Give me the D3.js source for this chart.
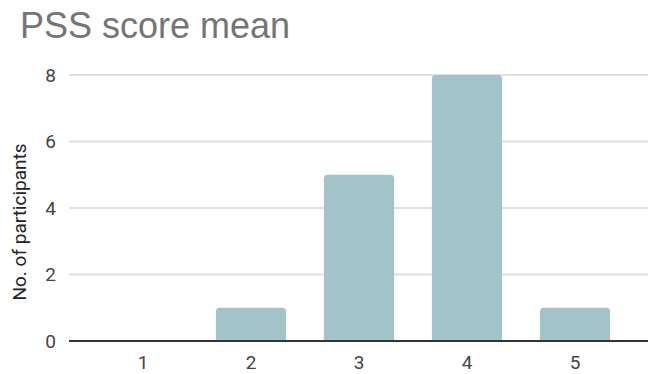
<!DOCTYPE html>
<html>
<head>
<meta charset="utf-8">
<script src="https://cdn.jsdelivr.net/npm/d3@7"></script>
<style>
  html, body { margin: 0; padding: 0; background: #fff; }
  svg { display: block; }
</style>
</head>
<body>
<svg id="chart" width="651" height="374"></svg>
<script>
const categories = ["1", "2", "3", "4", "5"];
const values = [0, 1, 5, 8, 1];
const yTicks = [0, 2, 4, 6, 8];
const titleText = "PSS score mean";
const yLabel = "No. of participants";

const svg = d3.select("#chart");
const W = 651, H = 374;
svg.append("rect").attr("width", W).attr("height", H).attr("fill", "#fff");

const gridX0 = 69, gridX1 = 648;
const x = d3.scaleBand().domain(categories).range([89, 629]).paddingInner(0.35).paddingOuter(0.175);
const y = d3.scaleLinear().domain([0, 8]).range([341, 75]);

// gridlines
svg.append("g").selectAll("line").data(yTicks.filter(d => d !== 0)).join("line")
  .attr("x1", gridX0).attr("x2", gridX1)
  .attr("y1", d => y(d)).attr("y2", d => y(d))
  .attr("stroke", "#e0e0e0").attr("stroke-width", 2);

// bars with rounded top corners
const r = 4;
svg.append("g").selectAll("path").data(categories.map((c, i) => ({c, v: values[i]})).filter(d => d.v > 0)).join("path")
  .attr("d", d => {
    const x0 = x(d.c), x1 = x0 + x.bandwidth(), y0 = y(0), y1 = y(d.v);
    return `M${x0},${y0} L${x0},${y1 + r} Q${x0},${y1} ${x0 + r},${y1} L${x1 - r},${y1} Q${x1},${y1} ${x1},${y1 + r} L${x1},${y0} Z`;
  })
  .attr("fill", "#a2c4c9");

// baseline
svg.append("line").attr("x1", gridX0).attr("x2", gridX1)
  .attr("y1", y(0)).attr("y2", y(0)).attr("stroke", "#333").attr("stroke-width", 2);

// y tick labels
const yAxis = d3.axisLeft(y).tickValues(yTicks).tickSize(0).tickPadding(0).tickFormat(d3.format("d"));
const gy = svg.append("g").attr("transform", "translate(56,0)").call(yAxis);
gy.select(".domain").remove();
gy.selectAll("text").attr("fill", "#444").style("font-family", "Roboto, 'Liberation Sans', sans-serif").style("font-size", "19px");

// x tick labels
const xAxis = d3.axisBottom(x).tickSize(0).tickPadding(0);
const gx = svg.append("g").attr("transform", "translate(0,355)").call(xAxis);
gx.select(".domain").remove();
gx.selectAll("text").attr("fill", "#444").attr("dy", "0.71em").style("font-family", "Roboto, 'Liberation Sans', sans-serif").style("font-size", "19px");

// y label
svg.append("text")
  .attr("transform", "translate(26,222) rotate(-90)")
  .attr("text-anchor", "middle")
  .attr("fill", "#222")
  .style("font-family", "Roboto, 'Liberation Sans', sans-serif")
  .style("font-size", "19px")
  .text(yLabel);

// title
svg.append("text")
  .attr("x", 20).attr("y", 38)
  .attr("fill", "#757575")
  .style("font-family", "'Liberation Sans', Arial, sans-serif")
  .style("font-size", "36px")
  .text(titleText);
</script>
</body>
</html>
